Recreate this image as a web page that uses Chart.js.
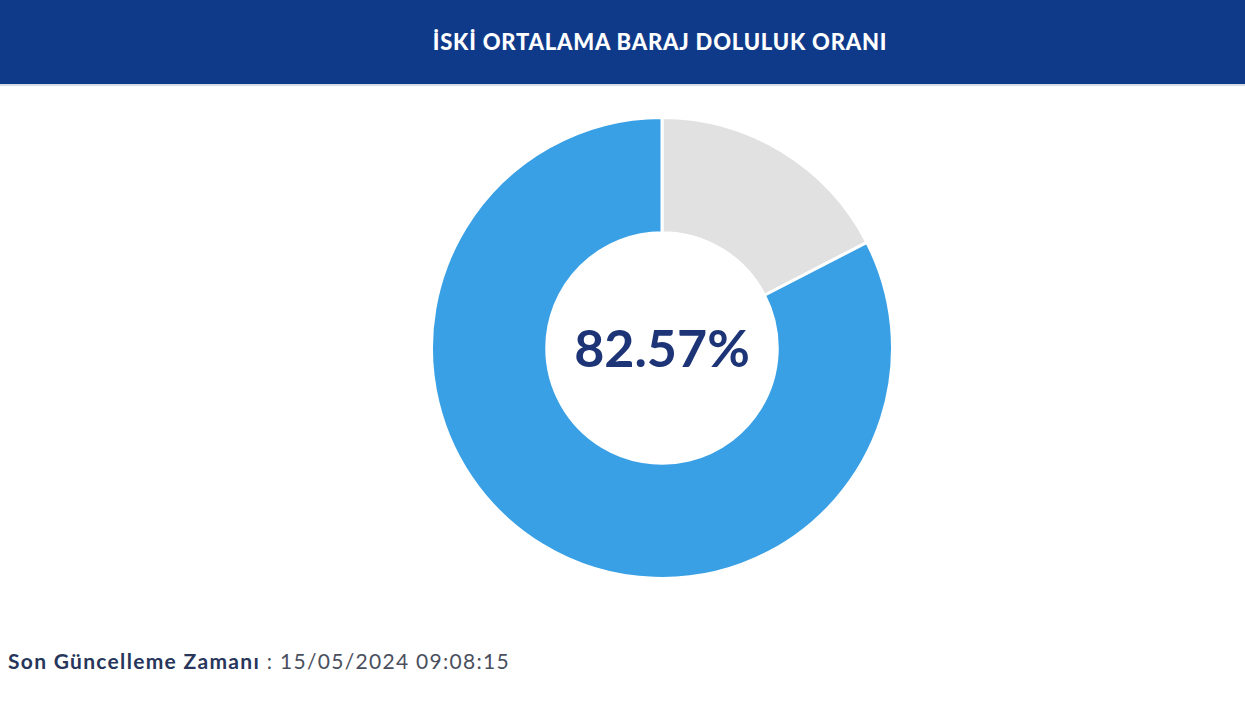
<!DOCTYPE html>
<html lang="tr">
<head>
<meta charset="utf-8">
<script src="https://cdn.jsdelivr.net/npm/chart.js@4"></script>
<style>
  html, body { margin: 0; padding: 0; background: #fff; width: 1245px; height: 710px; overflow: hidden; font-family: "Lato", "Open Sans", sans-serif; }
  .header { position: absolute; left: 0; top: 0; width: 1245px; height: 86px; background: #0f3a8a; border-bottom: 2px solid #d8dde8; box-sizing: border-box; }
  .header h1 { margin: 0; position: absolute; left: 0; width: 1320px; top: 28px; text-align: center; color: #fff; font-size: 22px; font-weight: 900; letter-spacing: 0.8px; }
  #wrap { position: absolute; left: 430px; top: 116px; width: 464px; height: 464px; }
  .footer { position: absolute; left: 8px; top: 648px; font-size: 21px; color: #4a4f5e; white-space: nowrap; letter-spacing: 1.3px; }
  .footer b { color: #27365a; font-weight: 700; }
</style>
</head>
<body>
<div class="header"><h1>İSKİ ORTALAMA BARAJ DOLULUK ORANI</h1></div>
<div id="wrap"><canvas id="myCanvas"></canvas></div>
<div class="footer"><b>Son Güncelleme Zamanı</b> : 15/05/2024 09:08:15</div>
<script>
const labels = ["Boş", "Dolu"];
const values = [17.43, 82.57];
const centerLabel = "82.57%";

const centerText = {
  id: "centerText",
  afterDraw(chart) {
    const ctx = chart.ctx;
    const arc = chart.getDatasetMeta(0).data[0];
    ctx.save();
    ctx.font = "700 52px Lato, sans-serif";
    ctx.fillStyle = "#1d3577";
    ctx.textAlign = "center";
    ctx.textBaseline = "middle";
    ctx.fillText(centerLabel, arc.x, arc.y + 2);
    ctx.restore();
  }
};

new Chart(document.getElementById("myCanvas"), {
  type: "doughnut",
  data: {
    labels: labels,
    datasets: [
      {
        data: values,
        backgroundColor: ["#e1e1e1", "#39a0e6"],
        borderColor: "#ffffff",
        borderWidth: 3
      }
    ]
  },
  options: {
    responsive: true,
    maintainAspectRatio: false,
    animation: false,
    cutout: "50%",
    plugins: {
      legend: { display: false },
      tooltip: { enabled: false }
    }
  },
  plugins: [centerText]
});
</script>
</body>
</html>
